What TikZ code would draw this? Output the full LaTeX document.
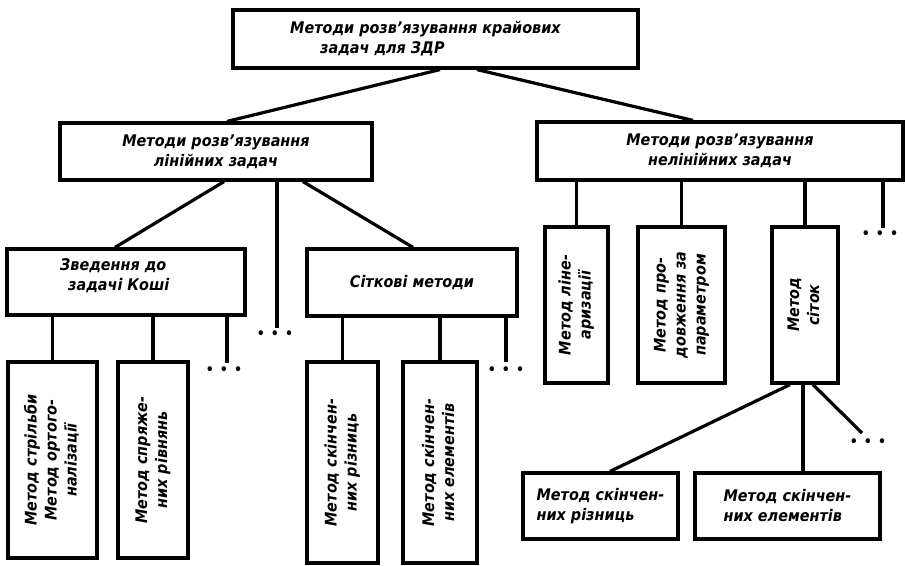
\documentclass[tikz,border=0pt]{standalone}
\usepackage{fontspec}
\usepackage{graphicx}
\setmainfont{DejaVu Sans}[FakeStretch=0.9]
\newcommand\lbl{\fontsize{16}{20}\selectfont\bfseries\itshape}
\newcommand\vtext[1]{\rotatebox{90}{\begin{tabular}{@{}c@{}}#1\end{tabular}}}
\newcommand\threedots{\textbullet\hspace{5pt}\textbullet\hspace{5pt}\textbullet}

\tikzset{
  box/.style={draw, line width=3.2pt, inner sep=2pt, font=\lbl, align=center},
  txt/.style={font=\lbl, align=left, inner sep=0pt},
  link/.style={line width=3.2pt},
  dotrow/.style={font=\fontsize{17}{17}\selectfont, inner sep=0pt},
}

\begin{document}
\begin{tikzpicture}[x=1pt,y=-1pt]
\useasboundingbox (0,0) rectangle (905,565);

% root
\node[box, minimum width=405pt, minimum height=58pt] (top) at (435.5,39) {};
\node[txt, anchor=north west] (topt) at (290,21)
  {Методи розв'язування крайових\\\hspace*{30pt}задач для ЗДР};

% second level
\node[box, minimum width=312pt, minimum height=57pt] (lin) at (216,151.5)
  {Методи розв'язування\\лінійних задач};
\node[box, minimum width=366pt, minimum height=58pt] (nelin) at (720,151)
  {Методи розв'язування\\нелінійних задач};

% linear problems
\node[box, minimum width=238pt, minimum height=66pt] (zved) at (126,282) {};
\node[txt, anchor=north west] (zvedt) at (60,258)
  {Зведення до\\\hspace*{8pt}задачі Коші};
\node[box, minimum width=210pt, minimum height=67pt] (sitk) at (412,282.5)
  {Сіткові методи};

\node[box, minimum width=89pt, minimum height=196pt] (b1) at (52.5,460)
  {\vtext{Метод стрільби\\Метод ортого-\\налізації}};
\node[box, minimum width=70pt, minimum height=196pt] (b2) at (153,460)
  {\vtext{Метод спряже-\\них рівнянь}};
\node[box, minimum width=71pt, minimum height=201pt] (b3) at (342.5,462.5)
  {\vtext{Метод скінчен-\\них різниць}};
\node[box, minimum width=74pt, minimum height=201pt] (b4) at (440,462.5)
  {\vtext{Метод скінчен-\\них елементів}};

% nonlinear problems
\node[box, minimum width=63pt, minimum height=156pt] (r1) at (576.5,305)
  {\vtext{Метод ліне-\\аризації}};
\node[box, minimum width=87pt, minimum height=156pt] (r2) at (681.5,305)
  {\vtext{Метод про-\\довження за\\параметром}};
\node[box, minimum width=66pt, minimum height=156pt] (r3) at (805,305)
  {\vtext{Метод\\сіток}};

\node[box, minimum width=155pt, minimum height=66pt, align=left] (s1) at (600.5,506)
  {Метод скінчен-\\них різниць};
\node[box, minimum width=185pt, minimum height=66pt, align=left] (s2) at (787.5,506)
  {Метод скінчен-\\них елементів};

% connectors
\draw[link] ([xshift=4.5pt]top.south) -- ([xshift=11pt]lin.north);
\draw[link] ([xshift=41.5pt]top.south) -- ([xshift=-27pt]nelin.north);

\draw[link] ([xshift=8pt]lin.south) -- ([xshift=-11pt]zved.north);
\draw[link] ([xshift=87pt]lin.south) -- ([xshift=1pt]sitk.north);
\coordinate (e1) at (277,328);
\draw[link] (lin.south -| e1) -- (e1);
\node[dotrow] (d1) at (275,335) {\threedots};

\draw[link] (b1.center |- zved.south) -- (b1);
\draw[link] (b2.center |- zved.south) -- (b2);
\coordinate (e2) at (227,363);
\draw[link] (zved.south -| e2) -- (e2);
\node[dotrow] (d2) at (224,371) {\threedots};

\draw[link] (b3.center |- sitk.south) -- (b3);
\draw[link] (b4.center |- sitk.south) -- (b4);
\coordinate (e3) at (506,362);
\draw[link] (sitk.south -| e3) -- (e3);
\node[dotrow] (d3) at (506,371) {\threedots};

\draw[link] (r1.center |- nelin.south) -- (r1);
\draw[link] (r2.center |- nelin.south) -- (r2);
\draw[link] (r3.center |- nelin.south) -- (r3);
\coordinate (e4) at (883,228);
\draw[link] (nelin.south -| e4) -- (e4);
\node[dotrow] (d4) at (880,235) {\threedots};

\draw[link] ([xshift=-15pt]r3.south) -- ([xshift=9.5pt]s1.north);
\draw[link] ([xshift=-2pt]r3.south) -- ([xshift=15.5pt]s2.north);
\coordinate (e5) at (862,433);
\draw[link] ([xshift=8pt]r3.south) -- (e5);
\node[dotrow] (d5) at (868,443) {\threedots};
\end{tikzpicture}
\end{document}
